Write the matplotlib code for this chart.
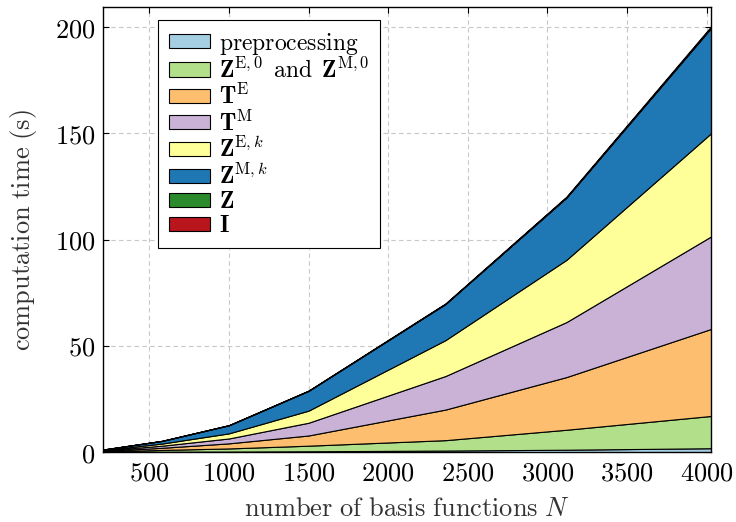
import matplotlib
matplotlib.use("Agg")
import matplotlib.pyplot as plt
from matplotlib.ticker import FuncFormatter, MultipleLocator

plt.rcParams["mathtext.fontset"] = "cm"
plt.rcParams["font.family"] = ["DejaVu Serif"]

# number of basis functions
n_basis = [212, 580, 1000, 1500, 2360, 3120, 4030]

# computation time per stage (s)
t_pre = [0.1, 0.15, 0.2, 0.35, 0.7, 1.1, 1.8]
t_z0 = [0.2, 0.85, 1.5, 2.65, 4.9, 9.4, 15.2]
t_te = [0.2, 1.0, 2.4, 4.8, 14.4, 24.8, 41.0]
t_tm = [0.2, 1.0, 2.3, 6.0, 15.8, 25.9, 43.6]
t_zek = [0.2, 1.0, 2.4, 5.7, 16.9, 29.3, 48.6]
t_zmk = [0.3, 1.25, 3.8, 9.3, 17.0, 29.3, 49.6]
t_z = [0.01, 0.02, 0.04, 0.06, 0.1, 0.15, 0.25]
t_i = [0.01, 0.03, 0.06, 0.1, 0.2, 0.35, 0.55]

labels = [
    r"$\mathrm{preprocessing}$",
    r"$\mathbf{Z}^{\mathrm{E},0}\ \,\mathrm{and}\ \,\mathbf{Z}^{\mathrm{M},0}$",
    r"$\mathbf{T}^{\mathrm{E}}$",
    r"$\mathbf{T}^{\mathrm{M}}$",
    r"$\mathbf{Z}^{\mathrm{E},k}$",
    r"$\mathbf{Z}^{\mathrm{M},k}$",
    r"$\mathbf{Z}$",
    r"$\mathbf{I}$",
]
colors = ["#a6cee3", "#b2df8a", "#fdbf6f", "#cab2d6",
          "#ffff99", "#1f78b4", "#2b8a2b", "#b8161c"]

fig = plt.figure(figsize=(7.36, 5.22), dpi=100)
ax = fig.add_axes([0.1406, 0.134, 0.826, 0.8526])

ax.stackplot(n_basis, t_pre, t_z0, t_te, t_tm, t_zek, t_zmk, t_z, t_i,
             labels=labels, colors=colors, edgecolor="black",
             linewidth=0.8, zorder=2)

ax.set_xlim(n_basis[0], n_basis[-1])
ax.set_ylim(0, 209.5)
ax.xaxis.set_major_locator(MultipleLocator(500))
ax.yaxis.set_major_locator(MultipleLocator(50))
fmt = FuncFormatter(lambda v, p: f"${v:g}$")
ax.xaxis.set_major_formatter(fmt)
ax.yaxis.set_major_formatter(fmt)
ax.tick_params(direction="in", top=True, right=True, labelsize=19,
               length=4, width=0.8, pad=6)
ax.grid(True, linestyle=(0, (4, 3)), color="#c8c8c8", linewidth=0.8, zorder=0)
ax.set_axisbelow(True)
for s in ax.spines.values():
    s.set_linewidth(1.0)
    s.set_zorder(5)

ax.set_xlabel(r"$\mathrm{number\ of\ basis\ functions}\ N$", fontsize=19,
              color="#333333", labelpad=8)
ax.set_ylabel(r"$\mathrm{computation\ time\ (s)}$", fontsize=19,
              color="#333333", labelpad=11)

leg = ax.legend(loc="upper left", bbox_to_anchor=(0.0896, 0.971),
                borderaxespad=0, fontsize=17, frameon=True, fancybox=False,
                framealpha=1, edgecolor="black", handlelength=1.75,
                handleheight=0.55, labelspacing=0.05, handletextpad=0.4,
                borderpad=0.45)
leg.get_frame().set_linewidth(0.8)
for h in leg.legend_handles:
    h.set_linewidth(0.8)

fig.savefig("out.png", dpi=100)
